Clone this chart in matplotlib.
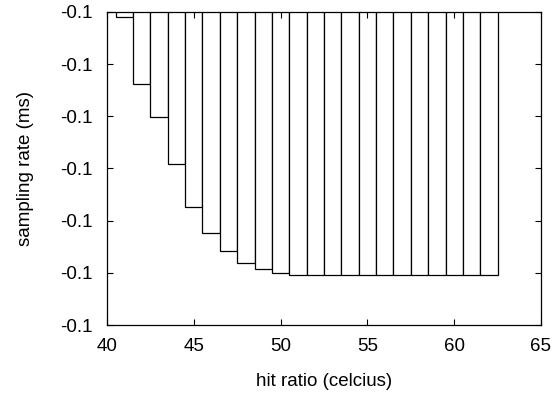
import matplotlib
matplotlib.use("Agg")
import matplotlib.pyplot as plt
from matplotlib.ticker import FormatStrFormatter

# data
x_vals = [41, 42, 43, 44, 45, 46, 47, 48, 49, 50, 51, 52, 53, 54, 55, 56, 57, 58, 59, 60, 61, 62]
y_vals = [-0.10001, -0.100138, -0.100201, -0.100291, -0.100374, -0.100424, -0.100458,
          -0.100481, -0.100493, -0.1005, -0.100504, -0.100504, -0.100504, -0.100504,
          -0.100504, -0.100504, -0.100504, -0.100504, -0.100504, -0.100504, -0.100504, -0.100504]
x_ticks = [40, 45, 50, 55, 60, 65]
y_ticks = [-0.1006, -0.1005, -0.1004, -0.1003, -0.1002, -0.1001, -0.1000]

plt.rcParams['font.family'] = ['Liberation Sans', 'DejaVu Sans']

fig = plt.figure(figsize=(5.56, 3.93), dpi=100)
ax = fig.add_axes([0.1924, 0.173, 0.973 - 0.1924, 0.9695 - 0.173])

ax.bar(x_vals, y_vals, width=1.0, bottom=0, color='white', edgecolor='black', linewidth=0.9)

ax.set_xlim(40, 65)
ax.set_ylim(-0.1006, -0.1000)
ax.set_xticks(x_ticks)
ax.set_yticks(y_ticks)
ax.yaxis.set_major_formatter(FormatStrFormatter('%.1f'))
ax.tick_params(direction='in', top=True, right=True, labelsize=13.5, length=4, width=0.8)
ax.tick_params(axis='x', pad=9.5)
ax.tick_params(axis='y', pad=10)
for s in ax.spines.values():
    s.set_linewidth(0.9)

ax.set_xlabel('hit ratio (celcius)', fontsize=13.5, labelpad=12.5)
ax.set_ylabel('sampling rate (ms)', fontsize=13.5, labelpad=19.5)

fig.savefig('out.png', dpi=100)
